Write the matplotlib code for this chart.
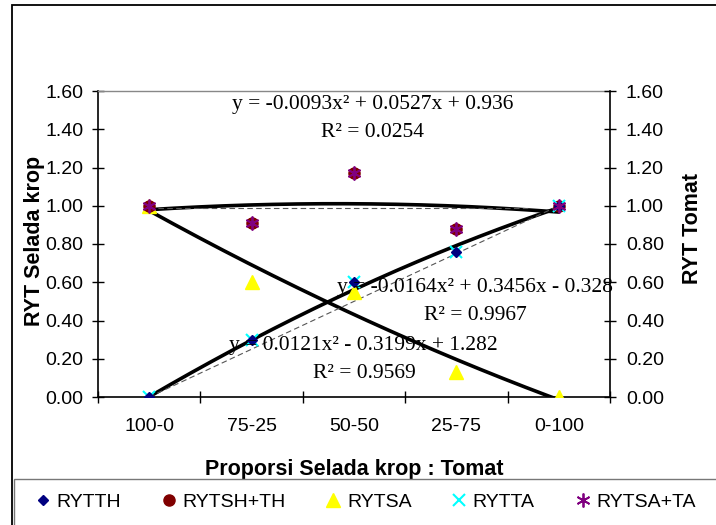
import matplotlib
matplotlib.use("Agg")
import matplotlib.pyplot as plt
import numpy as np
from matplotlib.patches import Rectangle

plt.rcParams['font.family'] = ['Liberation Sans', 'DejaVu Sans']

categories = ["100-0", "75-25", "50-50", "25-75", "0-100"]
rytth = [0.00, 0.30, 0.60, 0.76, 1.00]
rytsh_th = [1.00, 0.91, 1.17, 0.88, 1.00]
rytsa = [1.00, 0.60, 0.55, 0.13, 0.00]
rytta = [0.00, 0.30, 0.60, 0.76, 1.00]
rytsa_ta = [1.00, 0.91, 1.17, 0.88, 1.00]

# polynomial trendline coefficients (a, b, c) for y = a x^2 + b x + c
trend_total = (-0.0093, 0.0527, 0.936)
trend_tomat = (-0.0164, 0.3456, -0.328)
trend_selada = (0.0121, -0.3199, 1.282)

# thin dashed reference lines
dash_diag_x = [1, 5]
dash_diag_y = [0.00, 1.00]
dash_top_x = [1, 4.7]
dash_top_y = [0.99, 0.99]

yticks = [0.0, 0.2, 0.4, 0.6, 0.8, 1.0, 1.2, 1.4, 1.6]

W, H = 716, 525
fig = plt.figure(figsize=(W / 100, H / 100), dpi=100)

# outer chart frame and legend box
fig.patches.append(Rectangle((12 / W, -0.1), 1.2, 1 - 5 / H + 0.1, transform=fig.transFigure,
                             fill=False, edgecolor='black', lw=1.3))
fig.patches.append(Rectangle((14 / W, -0.1), 1.2, 1 - 479 / H + 0.1, transform=fig.transFigure,
                             fill=False, edgecolor='#777777', lw=1.0))

ax = fig.add_axes([98 / W, 1 - 397 / H, (610 - 98) / W, (397 - 91) / H])
x = np.arange(1, len(categories) + 1)

xs = np.linspace(1, 5, 200)
for (a, b, c) in (trend_total, trend_tomat, trend_selada):
    ax.plot(xs, a * xs**2 + b * xs + c, color='black', lw=2.6, zorder=2, solid_capstyle='round')
ax.plot(dash_diag_x, dash_diag_y, color='#555555', lw=0.8, ls=(0, (5, 3)), zorder=2)
ax.plot(dash_top_x, dash_top_y, color='#555555', lw=0.8, ls=(0, (5, 3)), zorder=2)

ax.plot(x, rytsa, ls='none', marker='^', ms=10, color='#FFFF00', mec='#FFFF00', label='RYTSA', zorder=3)
ax.plot(x, rytsh_th, ls='none', marker='o', ms=8, color='#800000', mec='#800000', label='RYTSH+TH', zorder=3)
ax.plot(x, rytta, ls='none', marker='x', ms=9, mew=1.5, color='#00FFFF', label='RYTTA', zorder=4)
ax.plot(x, rytth, ls='none', marker='D', ms=5.5, color='#000080', mec='#000080', label='RYTTH', zorder=4)
ax.plot(x, rytsa_ta, ls='none', marker=(6, 2, 0), ms=10, mew=1.3, color='#800080', label='RYTSA+TA', zorder=5)

ax.set_xlim(0.5, 5.5)
ax.set_ylim(0, 1.6)
ax.set_yticks(yticks)
ax.set_yticklabels([f"{v:.2f}" for v in yticks])
ax.set_xticks(np.arange(0.5, 6, 1))
ax.set_xticklabels([])
ax.set_xticks(x, minor=True)
ax.set_xticklabels(categories, minor=True)
ax.tick_params(axis='x', which='minor', length=0, pad=15, labelsize=14)
ax.tick_params(axis='x', which='major', direction='inout', length=9, width=1)
ax.tick_params(axis='y', direction='inout', length=9, width=1, labelsize=14, pad=6)
for s in ('left', 'bottom'):
    ax.spines[s].set_linewidth(1.2)
ax.spines['top'].set_color('#888888')
ax.spines['top'].set_linewidth(1.0)
ax.spines['right'].set_visible(False)

ax2 = ax.twinx()
ax2.set_ylim(0, 1.6)
ax2.set_yticks(yticks)
ax2.set_yticklabels([f"{v:.2f}" for v in yticks])
ax2.tick_params(axis='y', direction='inout', length=9, width=1, labelsize=14, pad=7)
for s in ('left', 'bottom', 'top'):
    ax2.spines[s].set_visible(False)
ax2.spines['right'].set_linewidth(1.2)

ax.set_ylabel("RYT Selada krop", fontsize=15.5, fontweight='bold')
ax.yaxis.set_label_coords(-(98 - 45) / (610 - 98), 0.51)
ax2.set_ylabel("RYT Tomat", fontsize=15.5, fontweight='bold')
ax2.yaxis.set_label_coords(1 + (682 - 610) / (610 - 98), 0.55)
ax.set_xlabel("Proporsi Selada krop : Tomat", fontsize=15.5, fontweight='bold')
ax.xaxis.set_label_coords(0.5, -(459 - 397) / (397 - 91))

serif = dict(family=['Liberation Serif', 'DejaVu Serif'], fontsize=15.5, ha='center', va='center', zorder=6)
ax.text(3.18, 1.527, "y = -0.0093x² + 0.0527x + 0.936", **serif)
ax.text(3.18, 1.384, "R² = 0.0254", **serif)
ax.text(4.18, 0.570, "y = -0.0164x² + 0.3456x - 0.328", clip_on=False, **serif)
ax.text(4.19, 0.425, "R² = 0.9967", **serif)
ax.text(3.09, 0.268, "y = 0.0121x² - 0.3199x + 1.282", **serif)
ax.text(3.10, 0.125, "R² = 0.9569", **serif)

handles, labels = ax.get_legend_handles_labels()
order = ['RYTTH', 'RYTSH+TH', 'RYTSA', 'RYTTA', 'RYTSA+TA']
hmap = dict(zip(labels, handles))
leg = fig.legend([hmap[k] for k in order], order, loc='center left',
                 bbox_to_anchor=(25.5 / W, 1 - 502 / H), ncol=5, frameon=False,
                 borderaxespad=0, fontsize=14, handlelength=1.0, handletextpad=0.2,
                 columnspacing=1.95)

fig.savefig("out.png", dpi=100)
